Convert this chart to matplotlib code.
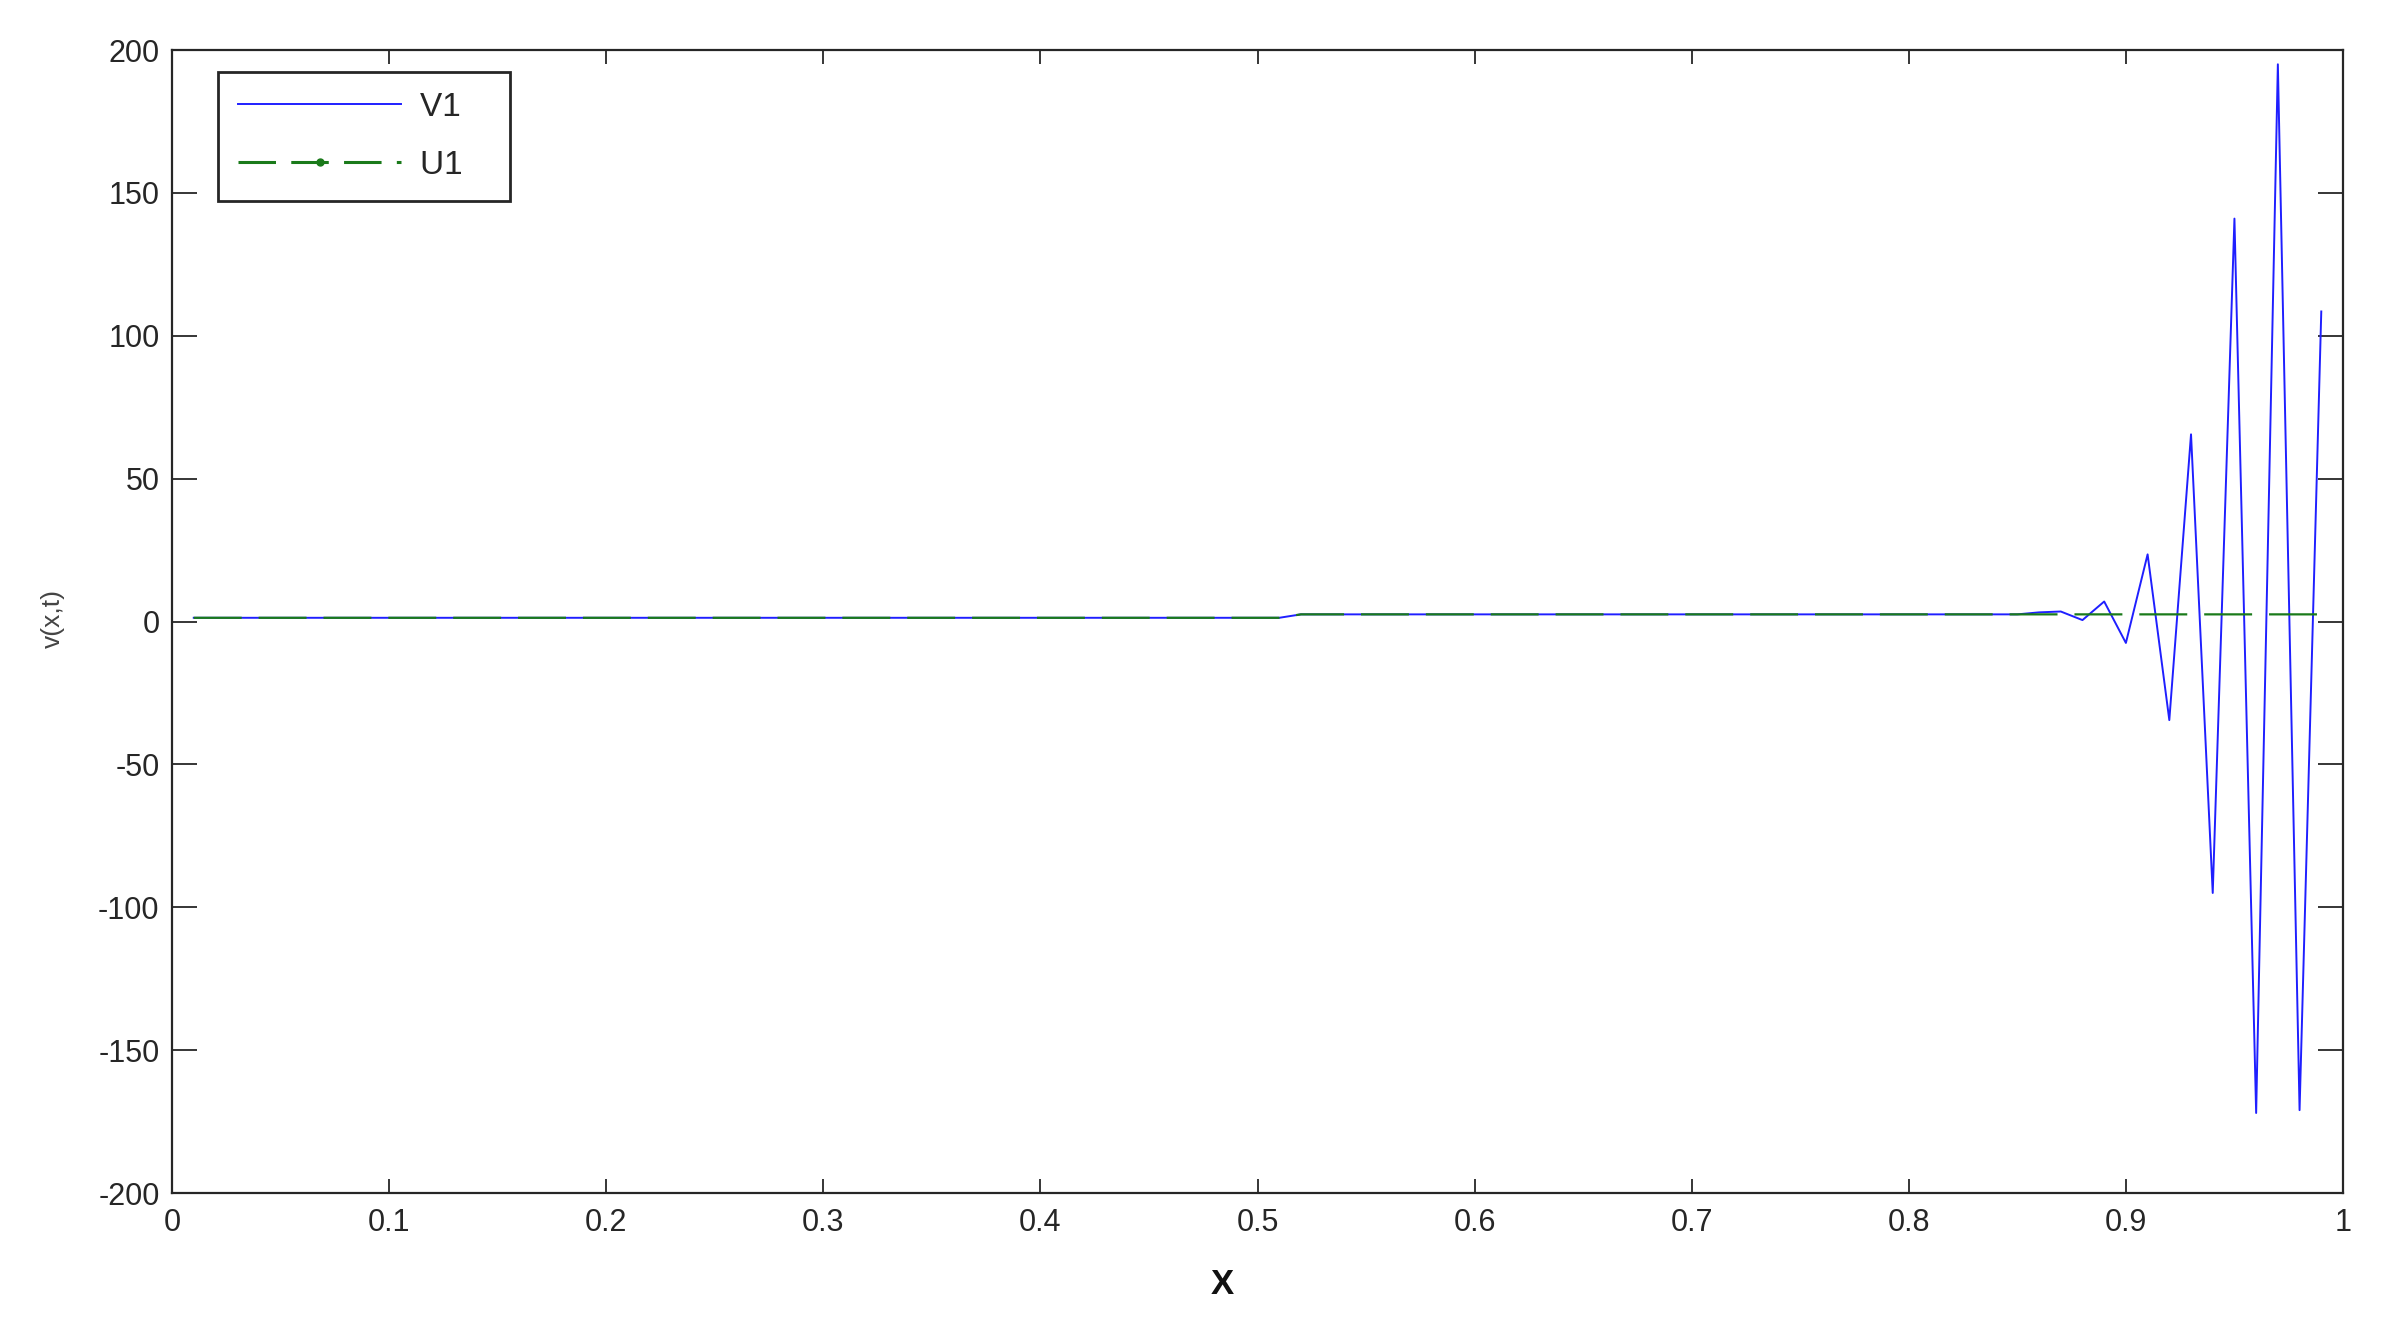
import numpy as np
import matplotlib
matplotlib.use("Agg")
import matplotlib.pyplot as plt
from matplotlib.lines import Line2D

# sample grid 0.01 .. 0.99
x = np.linspace(0.01, 0.99, 99)

v1 = [
    1.3, 1.3, 1.3, 1.3, 1.3, 1.3, 1.3, 1.3, 1.3, 1.3,
    1.3, 1.3, 1.3, 1.3, 1.3, 1.3, 1.3, 1.3, 1.3, 1.3,
    1.3, 1.3, 1.3, 1.3, 1.3, 1.3, 1.3, 1.3, 1.3, 1.3,
    1.3, 1.3, 1.3, 1.3, 1.3, 1.3, 1.3, 1.3, 1.3, 1.3,
    1.3, 1.3, 1.3, 1.3, 1.3, 1.3, 1.3, 1.3, 1.3, 1.3,
    1.3, 2.5, 2.5, 2.5, 2.5, 2.5, 2.5, 2.5, 2.5, 2.5,
    2.5, 2.5, 2.5, 2.5, 2.5, 2.5, 2.5, 2.5, 2.5, 2.5,
    2.5, 2.5, 2.5, 2.5, 2.5, 2.5, 2.5, 2.5, 2.5, 2.5,
    2.5, 2.5, 2.5, 2.5, 2.5, 3.2, 3.5, 0.5, 7.0, -7.5,
    23.5, -34.5, 65.5, -95.0, 141.0, -172.0, 195.0, -171.0, 108.5,
]

u1 = [
    1.3, 1.3, 1.3, 1.3, 1.3, 1.3, 1.3, 1.3, 1.3, 1.3,
    1.3, 1.3, 1.3, 1.3, 1.3, 1.3, 1.3, 1.3, 1.3, 1.3,
    1.3, 1.3, 1.3, 1.3, 1.3, 1.3, 1.3, 1.3, 1.3, 1.3,
    1.3, 1.3, 1.3, 1.3, 1.3, 1.3, 1.3, 1.3, 1.3, 1.3,
    1.3, 1.3, 1.3, 1.3, 1.3, 1.3, 1.3, 1.3, 1.3, 1.3,
    1.3, 2.5, 2.5, 2.5, 2.5, 2.5, 2.5, 2.5, 2.5, 2.5,
    2.5, 2.5, 2.5, 2.5, 2.5, 2.5, 2.5, 2.5, 2.5, 2.5,
    2.5, 2.5, 2.5, 2.5, 2.5, 2.5, 2.5, 2.5, 2.5, 2.5,
    2.5, 2.5, 2.5, 2.5, 2.5, 2.5, 2.5, 2.5, 2.5, 2.5,
    2.5, 2.5, 2.5, 2.5, 2.5, 2.5, 2.5, 2.5, 2.5,
]

xticks = [0, 0.1, 0.2, 0.3, 0.4, 0.5, 0.6, 0.7, 0.8, 0.9, 1]
xtick_labels = ["0", "0.1", "0.2", "0.3", "0.4", "0.5", "0.6", "0.7", "0.8", "0.9", "1"]
yticks = [-200, -150, -100, -50, 0, 50, 100, 150, 200]
ytick_labels = ["-200", "-150", "-100", "-50", "0", "50", "100", "150", "200"]

plt.rcParams['font.family'] = ['Liberation Sans', 'DejaVu Sans']
plt.rcParams['lines.scale_dashes'] = False

blue = '#1f1fff'
green = '#1a7a1a'
ink = '#262626'

fig = plt.figure(figsize=(23.93, 13.30), dpi=100)
ax = fig.add_axes([0.0719, 0.1030, 0.9072, 0.8594])

ax.plot(x, v1, color=blue, linewidth=1.4)
ax.plot(x, u1, color=green, linewidth=1.6, dashes=(34.5, 12.2))

ax.set_xlim(0, 1)
ax.set_ylim(-200, 200)
ax.set_xticks(xticks)
ax.set_xticklabels(xtick_labels)
ax.set_yticks(yticks)
ax.set_yticklabels(ytick_labels)

for s in ax.spines.values():
    s.set_linewidth(1.6)
    s.set_color(ink)

ax.tick_params(axis='both', direction='in', top=True, right=True,
               colors=ink, labelsize=22, width=1.3)
ax.tick_params(axis='x', length=10, pad=11)
ax.tick_params(axis='y', length=18, pad=9)

# legend (trailing spaces give the wider right margin of the original box)
h_v = Line2D([], [], color=blue, linewidth=1.4)
h_u = Line2D([], [], color=green, linewidth=2.2, dashes=(27, 11),
             marker='.', markersize=10)
leg = ax.legend([h_v, h_u], ["V1   ", "U1   "], loc='upper left',
                bbox_to_anchor=(0.0212, 0.9808), borderaxespad=0,
                fontsize=24, handlelength=4.9, handletextpad=0.55,
                borderpad=0.6, labelspacing=0.8, fancybox=False,
                framealpha=1, edgecolor=ink, markerscale=1)
leg.get_frame().set_linewidth(2.0)
for t in leg.get_texts():
    t.set_color(ink)

fig.text(1222 / 2393, 1 - 1285 / 1330, "X", ha='center', va='center',
         fontsize=25, fontweight='bold', color='#111111')
fig.text(53 / 2393, 1 - 618 / 1330, "v(x,t)", ha='center', va='center',
         rotation=90, fontsize=19, color='#444444')

fig.savefig("out.png", dpi=100)
